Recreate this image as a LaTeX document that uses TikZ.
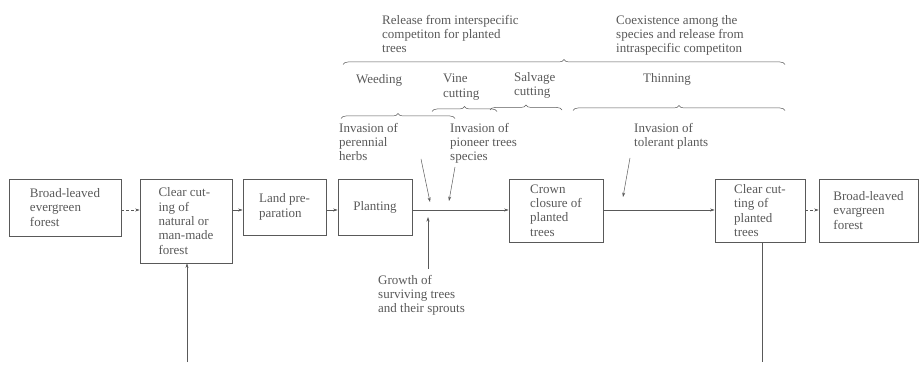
\documentclass[tikz,border=0pt]{standalone}
\usepackage{fontspec}
\setmainfont{Liberation Serif}
\usepackage{tikz}
\usetikzlibrary{decorations.pathreplacing,arrows.meta}

\definecolor{ink}{gray}{0.35}
\tikzset{
  stage/.style={shape=rectangle,draw=ink,line width=0.7pt,align=left,inner sep=0pt},
  lbl/.style={anchor=north west,inner sep=0pt,align=left},
  brc/.style={decorate,line width=0.5pt,decoration={brace,amplitude=5pt}},
  flow/.style={->,line width=0.5pt},
  gap/.style={dash pattern=on 3pt off 2pt},
}

\begin{document}
\begin{tikzpicture}[x=1pt,y=-1pt,>={Stealth[length=4.5pt,width=3pt]},font=\fontsize{13}{14.3}\selectfont,color=ink]
\useasboundingbox (0,0) rectangle (919,366);

% stages along the main line
\node[stage,minimum width=112pt,minimum height=57pt] (bl) at (65,207.5) {Broad-leaved\\evergreen\\forest};
\node[stage,minimum width=92pt,minimum height=84pt] (ccn) at (186,221) {Clear cut-\\ing of\\natural or\\man-made\\forest};
\node[stage,minimum width=83pt,minimum height=56pt] (lp) at (284.5,207) {Land pre-\\paration};
\node[stage,minimum width=74pt,minimum height=56pt] (pl) at (375,207) {Planting};
\node[stage,minimum width=94pt,minimum height=63pt] (cr) at (556,210.5) {Crown\\closure of\\planted\\trees};
\node[stage,minimum width=90pt,minimum height=63pt] (ccp) at (760,210.5) {Clear cut-\\ting of\\planted\\trees};
\node[stage,minimum width=99pt,minimum height=63pt] (br) at (868.5,210.5) {Broad-leaved\\evargreen\\forest};

\coordinate (fl) at (0,210);
\path[flow,gap] (bl.east |- fl) edge (ccn.west |- fl);
\path[flow] (ccn.east |- fl) edge (lp.west |- fl);
\path[flow] (lp.east |- fl) edge (pl.west |- fl);
\path[flow] (pl.east |- fl) edge (cr.west |- fl);
\path[flow] (cr.east |- fl) edge (ccp.west |- fl);
\path[flow,gap] (ccp.east |- fl) edge (br.west |- fl);

\coordinate (cutbot) at (187,362);
\path[flow] (cutbot) edge (cutbot |- ccn.south);
\coordinate (fellbot) at (762,362);
\path[-,line width=0.5pt] (fellbot |- ccp.south) edge (fellbot);

% treatments and braces
\node[lbl] (rel) at (382,15) {Release from interspecific\\competiton for planted\\trees};
\node[lbl] (coex) at (616,15) {Coexistence among the\\species and release from\\intraspecific competiton};
\draw[brc] (343,64.5) -- (785,64.5);

\node[lbl] (weed) at (356,74) {Weeding};
\node[lbl] (vine) at (443,74) {Vine\\cutting};
\node[lbl] (salv) at (514,72) {Salvage\\cutting};
\node[lbl] (thin) at (643,73) {Thinning};
\draw[brc] (341,118.5) -- (455,118.5);
\draw[brc] (432,111.5) -- (497,111.5);
\draw[brc] (490,110) -- (562,110);
\draw[brc] (573,110.5) -- (785,110.5);

% invasions and growth
\node[lbl] (per) at (339,123) {Invasion of\\perennial\\herbs};
\node[lbl] (pio) at (450,123) {Invasion of\\pioneer trees\\species};
\node[lbl] (tol) at (634,123) {Invasion of\\tolerant plants};
\node[lbl] (grow) at (378,275) {Growth of\\surviving trees\\and their sprouts};

\coordinate (pe1) at (421,159);
\coordinate (pe2) at (430,202);
\coordinate (pi1) at (455,167);
\coordinate (pi2) at (449,201);
\coordinate (to1) at (630,158);
\coordinate (to2) at (623,197);
\coordinate (gr1) at (428,269);
\coordinate (gr2) at (428,217);
\path[flow] (pe1) edge (pe2);
\path[flow] (pi1) edge (pi2);
\path[flow] (to1) edge (to2);
\path[flow] (gr1) edge (gr2);
\end{tikzpicture}
\end{document}
